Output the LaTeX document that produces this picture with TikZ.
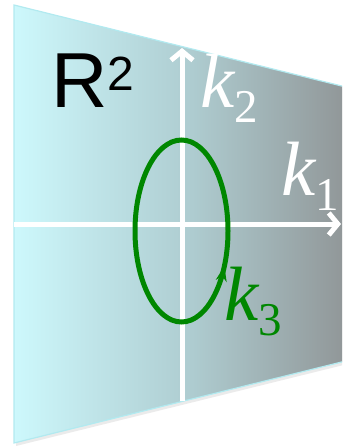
\documentclass[tikz,border=0pt]{standalone}
\usepackage{fontspec}
\usepackage{tikz}
\usetikzlibrary{arrows.meta,decorations.markings}
\newfontfamily\planefont{Liberation Sans}
\newfontfamily\kfont{Liberation Serif}
\definecolor{PlaneCyan}{RGB}{205,248,252}
\definecolor{PlaneMid}{RGB}{174,204,208}
\definecolor{PlaneGray}{RGB}{140,142,143}
\definecolor{EdgeCyan}{RGB}{178,234,240}
\definecolor{LoopGreen}{RGB}{0,135,0}
\newcommand{\kvec}[1]{{\itshape k}\raisebox{-15pt}{\fontsize{47}{47}\selectfont #1}}
\tikzset{
  plane/.style={draw=EdgeCyan,line width=1.2pt,left color=PlaneCyan,right color=PlaneGray,middle color=PlaneMid},
  axis/.style={draw=white,line width=5pt,-{Straight Barb[length=9pt,width=22pt]}},
  kloop/.style={draw=LoopGreen,line width=5pt},
  klabel/.style={text=white,inner sep=0pt,anchor=base west,font=\kfont\fontsize{77}{77}\selectfont},
}

\begin{document}
\begin{tikzpicture}[x=1pt,y=-1pt]
  \useasboundingbox (0,0) rectangle (342,446);
  \clip (0,0) rectangle (342,446);
  % the tilted plane
  \coordinate (tl) at (14,5);
  \coordinate (bl) at (14,443);
  \coordinate (tr) at (370,93);
  \coordinate (br) at (370,355);
  \fill[black,opacity=0.08] ([shift={(2,3)}]tl) -- ([shift={(2,3)}]tr)
    -- ([shift={(2,3)}]br) -- ([shift={(2,3)}]bl) -- cycle;
  \draw[plane] (tl) -- (tr) -- (br) -- (bl) -- cycle;
  % axes
  \coordinate (xl) at (14,224);
  \coordinate (xr) at (341,224);
  \coordinate (yb) at (182,401);
  \coordinate (yt) at (182,48);
  \draw[axis] (xl) -- (xr);
  \draw[axis] (yb) -- (yt);
  % the loop k3
  \coordinate (c) at (181.5,231);
  \draw[kloop,postaction={decorate},
    decoration={markings,mark=at position 0.08 with {\arrowreversed{Stealth[length=15pt,width=11pt]}}}]
    (c) ellipse [x radius=46.5,y radius=91];
  % labels
  \node[anchor=base west,inner sep=0pt,font=\planefont\fontsize{78}{78}\selectfont] (r2) at (51,108)
    {R\raisebox{17pt}{\fontsize{48}{48}\selectfont 2}};
  \node[klabel] (k2) at (200,108) {\kvec{2}};
  \node[klabel] (k1) at (281,195) {\kvec{1}};
  \node[klabel,text=LoopGreen] (k3) at (224,320) {\kvec{3}};
\end{tikzpicture}
\end{document}
